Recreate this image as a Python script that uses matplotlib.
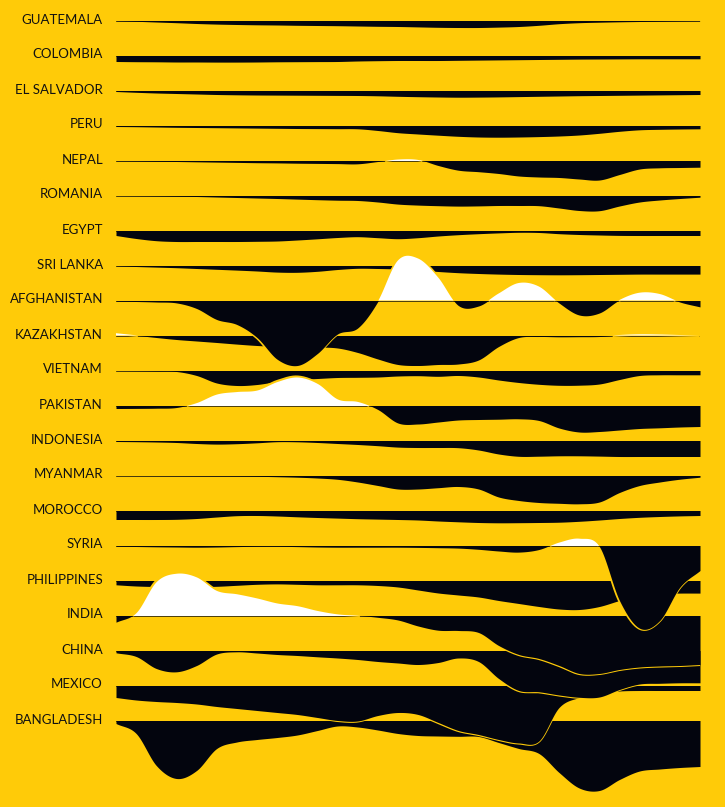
import numpy as np
import matplotlib
matplotlib.use("Agg")
import matplotlib.pyplot as plt

countries = ["GUATEMALA", "COLOMBIA", "EL SALVADOR", "PERU", "NEPAL", "ROMANIA", "EGYPT",
             "SRI LANKA", "AFGHANISTAN", "KAZAKHSTAN", "VIETNAM", "PAKISTAN", "INDONESIA",
             "MYANMAR", "MOROCCO", "SYRIA", "PHILIPPINES", "INDIA", "CHINA", "MEXICO", "BANGLADESH"]

guatemala = [-0.2, -0.8, -1.5, -2.2, -3, -3.6, -4, -4.3, -4.5, -4.8, -5, -5.2, -5.5, -5.8, -6,
             -6.4, -6.8, -7, -7, -6.6, -6, -4.8, -3.2, -2.2, -1.7, -1.3, -1, -0.7, -0.4, -0.2]
colombia = [-6, -6.2, -6.3, -6.5, -6.5, -6.6, -6.6, -6.5, -6.3, -6.2, -6.1, -6, -5.5, -5.2, -5,
            -5, -5, -4.8, -4.6, -4.4, -4.2, -4, -3.8, -3.6, -3.5, -3.4, -3.3, -3.3, -3.3, -3.3]
el_salvador = [-1, -1.8, -2.5, -3, -3.5, -4, -4.3, -4.5, -4.6, -4.7, -4.8, -4.9, -5, -5.3, -5.8,
               -6.2, -6.5, -6.7, -6.6, -6.4, -6.1, -5.8, -5.5, -5.2, -5, -4.8, -4.6, -4.4, -4.2, -4]
peru = [-1, -1.2, -1.5, -1.8, -2, -2.2, -2.4, -2.6, -2.8, -3, -3.1, -3.2, -3.3, -5, -7.2,
        -8.5, -9.7, -10.8, -11.5, -11.7, -11.5, -11.1, -10.5, -9.5, -7.8, -5.8, -4.3, -3.8, -3.5, -3.3]
nepal = [-0.3, -0.5, -0.8, -1, -1.3, -1.6, -1.9, -2.2, -2.4, -2.7, -2.9, -3.1, -3.3, -1, 1.5,
         1.0, -5, -9.7, -11.2, -13, -15.5, -16.5, -17, -18.5, -19.5, -14, -8.5, -7.3, -7, -6.7]
romania = [0, -0.2, -0.4, -0.7, -1, -1.5, -2, -2.5, -3, -3.6, -4.2, -4.7, -5, -6.5, -8.6,
           -9.6, -10.2, -10.6, -10.4, -10, -10, -10.2, -12.5, -15, -15.2, -10.5, -6.5, -4.5, -3, -1.7]
egypt = [-5, -8, -10.2, -11, -11, -11, -11, -10.8, -10.5, -9.5, -8.3, -7, -6.2, -7.2, -8.2,
         -7.2, -5.5, -4.2, -3.2, -2.4, -1.8, -2, -3.2, -4, -4.5, -4.9, -5, -5, -5, -5]
sri_lanka = [-0.3, -1, -1.6, -2.2, -3, -3.8, -4.6, -5.5, -6.6, -6.8, -5.8, -4, -2.8, -3, -3.5,
             -4.5, -6, -7.2, -8, -8.6, -9, -9.2, -9.3, -9.2, -9, -8.8, -8.6, -8.6, -8.6, -8.6]
afghanistan = [-0.7, -1, -1.5, -2.4, -8, -19, -24, -37, -58.7, -65, -53, -33.5, -27.5, -1, 40,
               42, 23, -5, -5.5, 7, 17.5, 14, -2.5, -14.5, -12.5, 0.5, 7.8, 6.5, -1.5, -6.4]
kazakhstan = [2.3, 0.2, -2, -4, -5.5, -7, -8.6, -10, -10.8, -11.2, -11.5, -12.5, -17, -23.5, -29,
              -30, -29, -28.5, -24.5, -11, -2, -1, -1.3, -1.2, -1, 0.5, 1.2, 1, 0.5, 0]
vietnam = [0, -0.2, -0.5, -1, -5, -12.5, -15, -14, -11, -9, -8, -7, -6.8, -6.5, -5.5,
           -5.2, -5.8, -5, -6.5, -9.5, -12, -13.8, -14.8, -14.7, -13.5, -9, -5, -4.3, -4.3, -4.3]
pakistan = [-3, -2.9, -2.7, -2, 3, 11.5, 14, 15.5, 24, 28.5, 22, 6.5, 4, -4, -17.5,
            -18.5, -16.5, -14.5, -14, -13.7, -13.3, -15, -22.5, -26.5, -26, -24.5, -23, -22.3, -21.5, -21]
indonesia = [-1, -1.2, -1.5, -2, -3, -3.6, -3.2, -2.3, -1.2, -1.3, -2, -3, -4, -5.2, -6.6,
             -7, -7, -7.2, -9.5, -13.5, -15.8, -15.7, -15.3, -15.3, -15.6, -16, -16, -16, -16, -16]
myanmar = [0, -0.1, -0.2, -0.3, -0.4, -0.5, -0.6, -0.8, -1.2, -1.7, -2.5, -3.8, -6.5, -10, -13.5,
           -13.5, -12.2, -11, -13.5, -21.5, -25, -27, -27.8, -28.3, -26.5, -17, -10, -6.5, -3.7, -1.7]
morocco = [-9, -9, -9, -8.8, -8, -6.5, -5.2, -5, -5.5, -6.3, -7, -7.6, -8.2, -8.6, -9,
           -9.5, -10.5, -11.3, -12, -12.3, -12.2, -12, -11.7, -10.8, -9.5, -8, -6.8, -6, -5.4, -5]
syria = [-0.7, -1, -1.3, -1.5, -1.7, -1.5, -1.1, -0.8, -0.8, -1.1, -1.5, -1.7, -1.7, -1.7, -1.7,
         -1.9, -2.2, -2.6, -3.8, -5.5, -6.6, -4, 3.5, 7.3, -1, -55, -82.7, -75, -41.7, -25]
philippines = [-4.3, -5.5, -6, -6, -6, -5.8, -4.8, -3.8, -3.4, -3.8, -4.3, -4.3, -4.3, -5, -6.5,
               -9.5, -12.5, -14.5, -16.5, -20, -23, -26, -28.5, -29, -26, -20, -15, -13, -12.6, -12.6]
india = [-6.7, 3, 34, 42.3, 38.5, 25, 21.7, 17.5, 12.5, 9.8, 5, 1.6, 0.2, -1.8, -4.5,
         -10.5, -14.7, -15, -17, -30, -39, -43, -50, -58, -58, -54, -51.5, -50.5, -50, -49]
china = [-2.3, -6, -18, -21.3, -15, -3.5, -1.3, -2.5, -4, -5, -6.3, -7.5, -9, -11, -12.5,
         -14, -12, -7.5, -11, -28, -40, -41.3, -44.5, -46.8, -46.5, -39, -33.5, -32.8, -32.3, -32.3]
mexico = [-12, -14.5, -16, -17, -18.5, -21, -23, -25, -27, -29, -32, -35, -35.5, -30, -27,
          -29, -37, -45, -49, -54, -57.5, -55.5, -22, -12, -8, -5.5, -5, -5, -5, -5]
bangladesh = [-3, -13, -45, -58, -50, -28, -21.5, -19, -17, -14.5, -10, -5.5, -6.5, -9.5, -13,
              -15, -15.5, -15.8, -16, -22, -28, -33, -52, -67.5, -70, -59, -50.5, -48.5, -47, -46]

series = [guatemala, colombia, el_salvador, peru, nepal, romania, egypt, sri_lanka, afghanistan,
          kazakhstan, vietnam, pakistan, indonesia, myanmar, morocco, syria, philippines, india,
          china, mexico, bangladesh]

BG = "#FFCB08"
DARK = "#03050E"
WHITE = "#FFFFFF"


def catmull_rom(x, y, xn):
    x = np.asarray(x, float)
    y = np.asarray(y, float)
    n = len(x)
    h = np.diff(x)
    m = np.zeros(n)
    m[1:-1] = (y[2:] - y[:-2]) / (x[2:] - x[:-2])
    m[0] = (y[1] - y[0]) / h[0]
    m[-1] = (y[-1] - y[-2]) / h[-1]
    idx = np.clip(np.searchsorted(x, xn) - 1, 0, n - 2)
    t = (xn - x[idx]) / h[idx]
    h00 = 2 * t**3 - 3 * t**2 + 1
    h10 = t**3 - 2 * t**2 + t
    h01 = -2 * t**3 + 3 * t**2
    h11 = t**3 - t**2
    return h00 * y[idx] + h10 * h[idx] * m[idx] + h01 * y[idx + 1] + h11 * h[idx] * m[idx + 1]


W, H = 725, 807
fig = plt.figure(figsize=(W / 100, H / 100), dpi=100, facecolor=BG)
ax = fig.add_axes([116 / W, 0, (700 - 116) / W, 1])
ax.set_facecolor(BG)
n = len(guatemala)
xs = np.arange(n)
xd = np.linspace(0, n - 1, 2000)
ax.set_xlim(0, n - 1)
ax.set_ylim(H, 0)
ax.axis("off")

ROW0, STEP = 20.5, 35.0
curves = [catmull_rom(xs, s, xd) for s in series]
bases = [ROW0 + STEP * i for i in range(len(series))]

# black (negative) parts: lower rows first, upper rows drawn on top.
# A background-coloured stroke is drawn just beneath each fill so it only
# shows as an edge where the shape overlaps the row below.
for i in reversed(range(len(series))):
    v = curves[i]
    b = bases[i]
    z = 2 + (len(series) - i) * 0.1
    neg = np.minimum(v, 0)
    ax.plot(xd, b - neg, color=BG, lw=2.2, zorder=z, solid_capstyle="butt")
    ax.fill_between(xd, b, b - neg, color=DARK, lw=0, zorder=z + 0.01)
    ax.plot([0, n - 1], [b, b], color=DARK, lw=0.5, zorder=z + 0.02)

# white (positive) parts on top of everything
for i in range(len(series)):
    v = curves[i]
    b = bases[i]
    pos = np.maximum(v, 0)
    if pos.max() <= 0:
        continue
    line = np.where(v > 0, b - v, np.nan)
    ax.plot(xd, line, color=BG, lw=2.2, zorder=10, solid_capstyle="butt")
    ax.fill_between(xd, b, b - pos, where=v > 0, color=WHITE, lw=0, zorder=10.1,
                    interpolate=True)

for name, b in zip(countries, bases):
    fig.text(103 / W, 1 - (b - 1) / H, name, ha="right", va="center",
             fontsize=9.5, family=["Lato", "DejaVu Sans"], color="#111111")

fig.savefig("out.png", dpi=100, facecolor=BG)
